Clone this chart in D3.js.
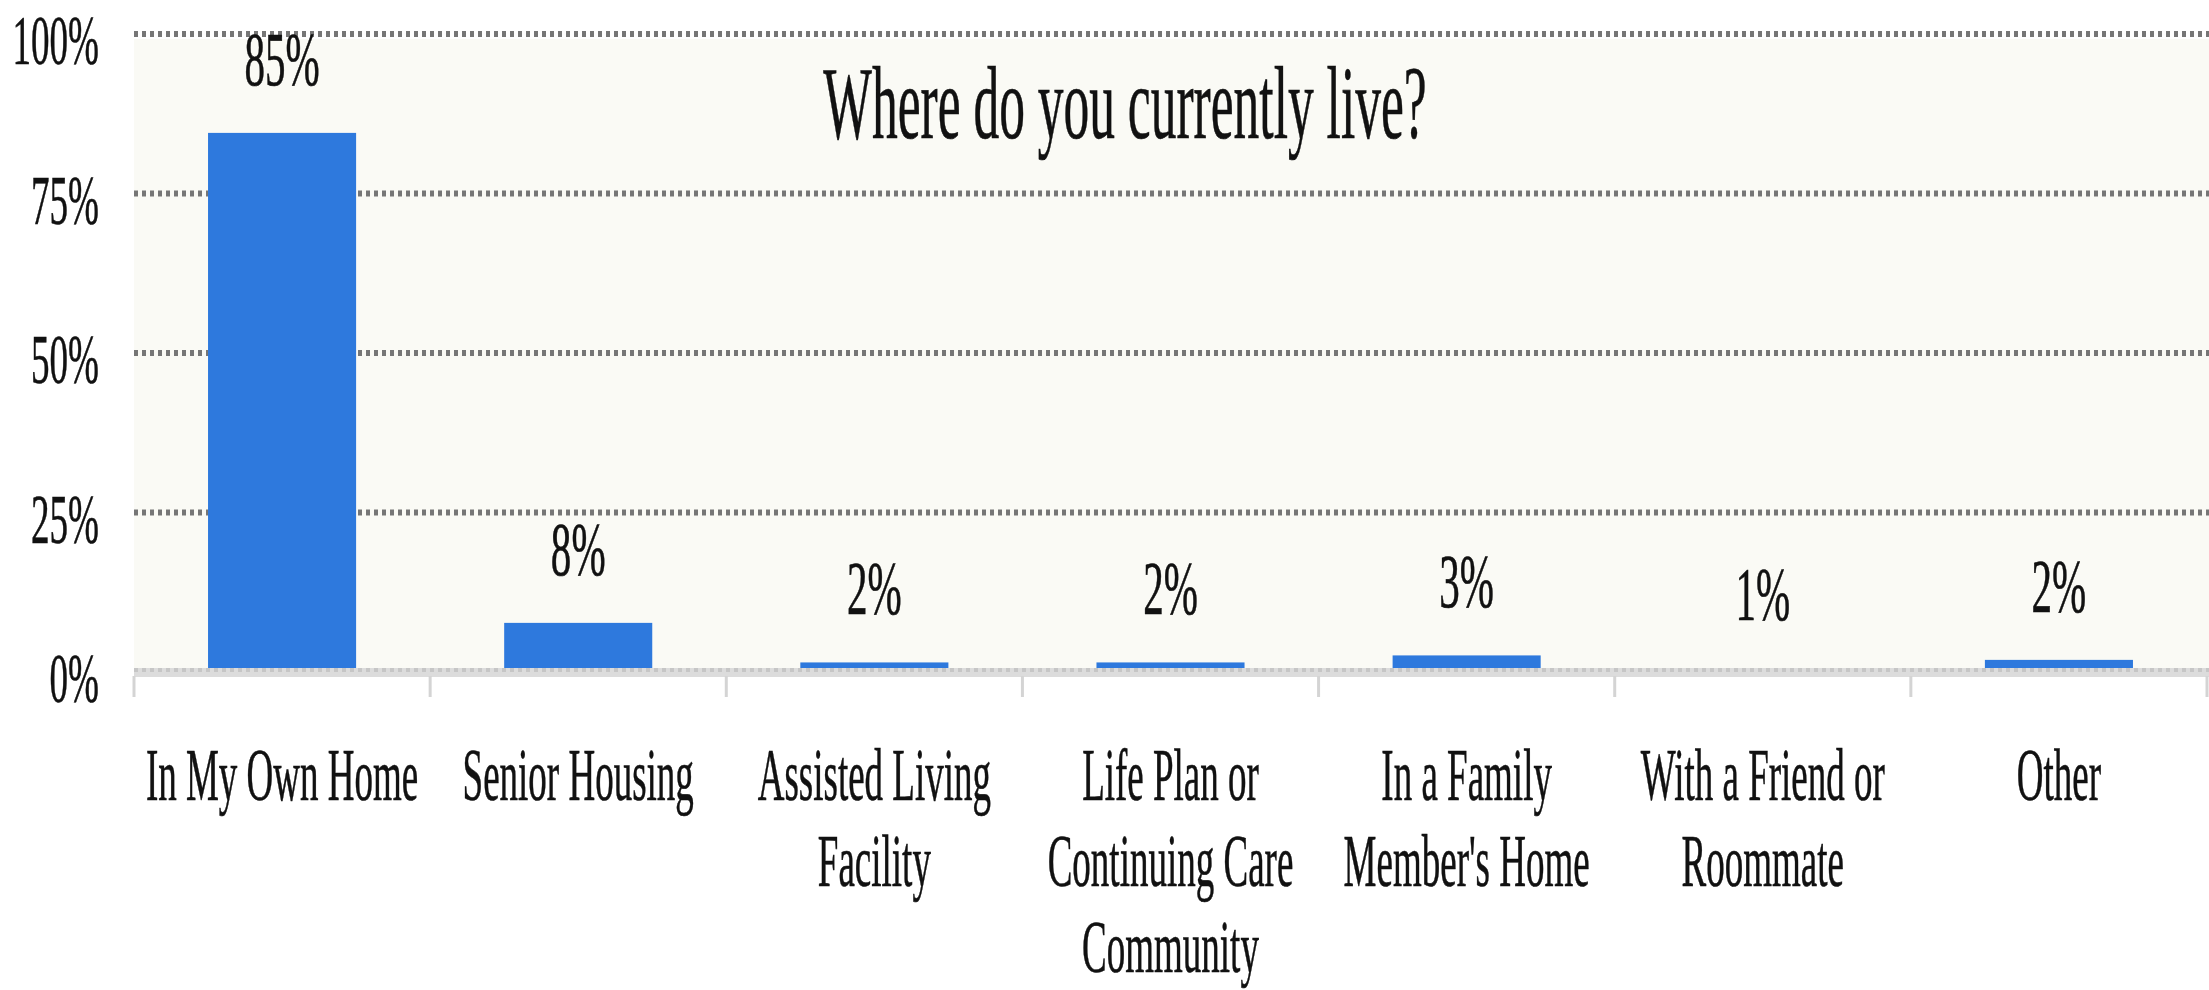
<!DOCTYPE html>
<html>
<head>
<meta charset="utf-8">
<script src="https://cdn.jsdelivr.net/npm/d3@7"></script>
<style>
  body { margin: 0; background: #fff; }
  text { font-family: "Liberation Serif", "Times New Roman", serif; fill: #111; stroke: #111; stroke-width: 0.6px; }
</style>
</head>
<body>
<div id="chart"></div>
<script>
// data
var categories = [
  "In My Own Home",
  "Senior Housing",
  "Assisted Living\nFacility",
  "Life Plan or\nContinuing Care\nCommunity",
  "In a Family\nMember's Home",
  "With a Friend or\nRoommate",
  "Other"
];
var values = [84.5, 7.7, 1.5, 1.5, 2.6, 0.6, 1.9];
var yTicks = [0, 25, 50, 75, 100];
var title = "Where do you currently live?";

var width = 2209,
  height = 990,
  margin = { top: 34, right: 2, bottom: 318, left: 134 };

// the text in the original is squeezed sideways
var squeeze = 0.5;

var svg = d3.select("#chart").append("svg")
  .attr("width", width)
  .attr("height", height);

var x = d3.scaleBand()
  .domain(categories)
  .range([margin.left, width - margin.right])
  .paddingInner(0.5)
  .paddingOuter(0.25);

var y = d3.scaleLinear()
  .domain([0, 100])
  .range([height - margin.bottom, margin.top]);

function squished(parent, px, py, str, size, anchor, sx) {
  var g = parent.append("g").attr("transform", "translate(" + px + "," + py + ")");
  g.append("text")
    .attr("transform", "scale(" + (sx || squeeze) + ",1)")
    .attr("text-anchor", anchor || "middle")
    .style("font-size", size + "px")
    .text(str);
  return g;
}

// plot background
svg.append("rect")
  .attr("x", margin.left)
  .attr("y", y(100) + 5)
  .attr("width", width - margin.left)
  .attr("height", y(0) - 4 - (y(100) + 5))
  .attr("fill", "#fafaf5");

// gridlines
svg.append("g").selectAll("line")
  .data(yTicks.filter(function(d) { return d > 0; }))
  .enter().append("line")
  .attr("x1", margin.left)
  .attr("x2", width)
  .attr("y1", function(d) { return y(d); })
  .attr("y2", function(d) { return y(d); })
  .attr("stroke", "#767676")
  .attr("stroke-width", 6)
  .attr("stroke-dasharray", "4,4");

// bars
svg.append("g").selectAll("rect")
  .data(values)
  .enter().append("rect")
  .attr("x", function(d, i) { return x(categories[i]); })
  .attr("y", function(d) { return y(d); })
  .attr("width", x.bandwidth())
  .attr("height", function(d) { return y(0) - y(d); })
  .attr("fill", "#2e79dd");

// x axis line (light band with dotted zero line on top)
svg.append("line")
  .attr("x1", margin.left).attr("x2", width)
  .attr("y1", y(0) + 0.5).attr("y2", y(0) + 0.5)
  .attr("stroke", "#dcdcdc")
  .attr("stroke-width", 9);
svg.append("line")
  .attr("x1", margin.left).attr("x2", width)
  .attr("y1", y(0) - 2).attr("y2", y(0) - 2)
  .attr("stroke", "#c6c6c6")
  .attr("stroke-width", 4)
  .attr("stroke-dasharray", "4,4");

// category ticks
var bounds = categories.map(function(c) { return x(c) - x.step() * x.paddingInner() / 2; });
bounds.push(bounds[bounds.length - 1] + x.step());
svg.append("g").selectAll("line")
  .data(bounds)
  .enter().append("line")
  .attr("x1", function(d) { return Math.min(d, width - 2); })
  .attr("x2", function(d) { return Math.min(d, width - 2); })
  .attr("y1", y(0) + 4)
  .attr("y2", y(0) + 25)
  .attr("stroke", "#d4d4d4")
  .attr("stroke-width", 3);

// y labels
var yl = svg.append("g");
yTicks.forEach(function(t) {
  squished(yl, 99, y(t) + 30, t + "%", 70, "end", 0.53);
});

// value labels
var vl = svg.append("g");
values.forEach(function(v, i) {
  squished(vl, x(categories[i]) + x.bandwidth() / 2, y(v) - 48, Math.round(v) + "%", 76, "middle", 0.54);
});

// category labels
var cl = svg.append("g");
categories.forEach(function(c) {
  c.split("\n").forEach(function(line, j) {
    squished(cl, x(c) + x.bandwidth() / 2, 800 + j * 86, line, 74, "middle", 0.5);
  });
});

// title
squished(svg, 1125, 138, title, 103, "middle", 0.5);
</script>
</body>
</html>
